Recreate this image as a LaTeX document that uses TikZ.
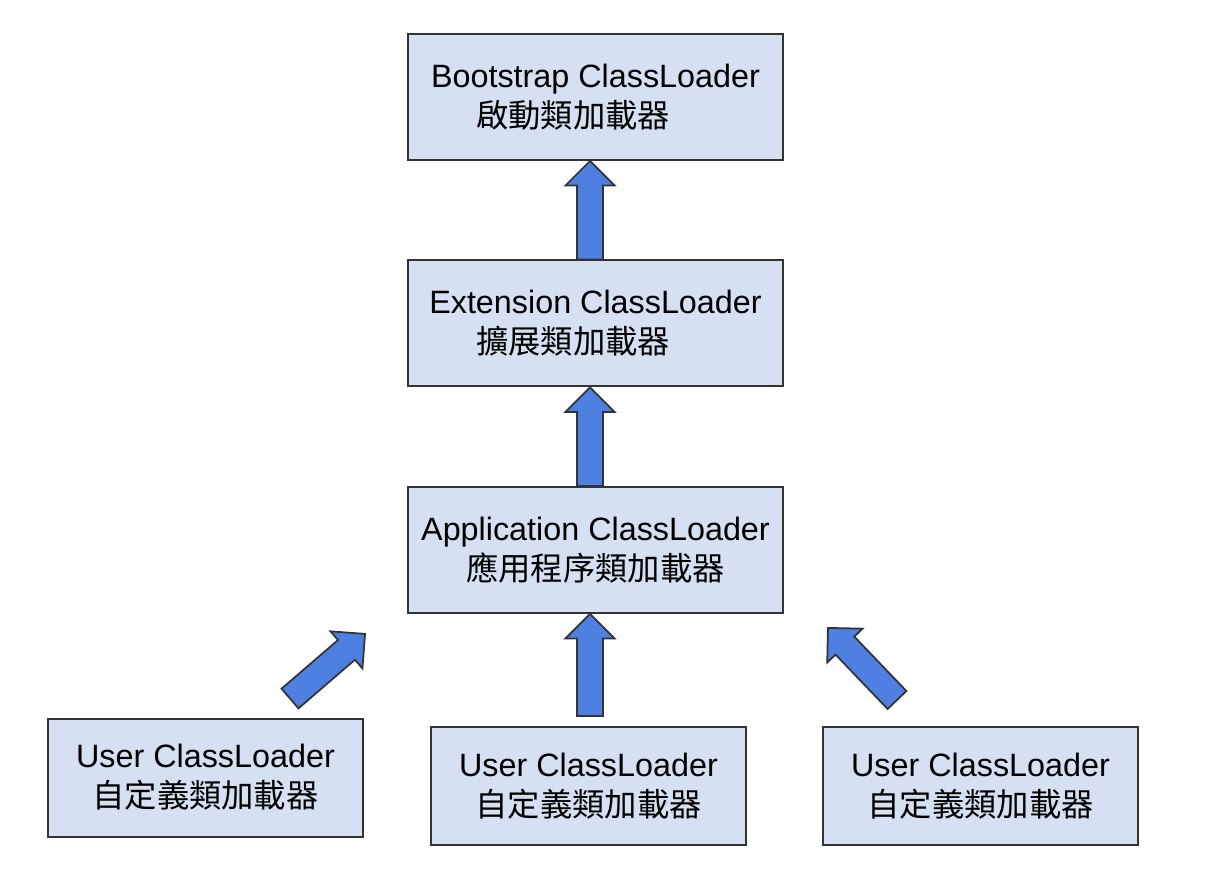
\documentclass[tikz,border=0pt]{standalone}
\usepackage{fontspec}
\setmainfont{Liberation Sans}
\newfontfamily\cjk{Noto Sans CJK TC}
\usepackage{tikz}
\usetikzlibrary{calc}
\definecolor{boxblue}{RGB}{213,224,242}
\definecolor{arrowblue}{RGB}{78,128,226}
\definecolor{edge}{RGB}{51,51,51}
\tikzstyle{loader} = [rectangle, minimum width=7.5cm, minimum height=2.52cm,%
    align=center, draw=edge, line width=0.04cm, fill=boxblue,
    font=\fontsize{18.4}{22.7}\selectfont]
\tikzstyle{user} = [loader, minimum width=6.3cm, minimum height=2.36cm]
\tikzstyle{fat} = [draw=edge, line width=0.035cm, fill=arrowblue, line join=miter]
% block arrow from #1 (tail) to #2 (tip)
\newcommand{\fatarrow}[2]{%
    \coordinate (fa-s) at (#1);
    \coordinate (fa-e) at (#2);
    \coordinate (fa-h) at ($(fa-e)!0.49cm!(fa-s)$);
    \filldraw[fat] ($(fa-s)!0.26cm!90:(fa-e)$) -- ($(fa-h)!0.26cm!90:(fa-e)$)
        -- ($(fa-h)!0.49cm!90:(fa-e)$) -- (fa-e) -- ($(fa-h)!0.49cm!-90:(fa-e)$)
        -- ($(fa-h)!0.26cm!-90:(fa-e)$) -- ($(fa-s)!0.26cm!-90:(fa-e)$) -- cycle;}

\begin{document}
\begin{tikzpicture}[x=0.02cm, y=-0.02cm, node distance=4.53cm]
        \useasboundingbox (0,0) rectangle (1216,872);
        \node (boot) [loader] at (595.5,97) {Bootstrap ClassLoader\\{\cjk 啟動類加載器}\hspace*{0.9cm}};
        \node (ext) [loader, below of=boot] {Extension ClassLoader\\{\cjk 擴展類加載器}\hspace*{0.9cm}};
        \node (app) [loader, below of=ext] {Application ClassLoader\\{\cjk 應用程序類加載器}};
        \node (uleft) [user] at (205.5,777.5) {User ClassLoader\\{\cjk 自定義類加載器}};
        \node (umid) [user] at (588.5,786) {User ClassLoader\\{\cjk 自定義類加載器}};
        \node (uright) [user] at (980.5,786) {User ClassLoader\\{\cjk 自定義類加載器}};
        \coordinate (lt) at ($(uleft.north)+(84.5,-19)$);
        \coordinate (lh) at ($(app.south west)+(-42,20)$);
        \coordinate (mt) at ($(umid.north)+(1.5,-10)$);
        \coordinate (rt) at ($(uright.north)+(-83.5,-26)$);
        \coordinate (rh) at ($(app.south east)+(44,14)$);
        \fatarrow{[xshift=-0.11cm]ext.north}{[xshift=-0.11cm]boot.south}
        \fatarrow{[xshift=-0.11cm]app.north}{[xshift=-0.11cm]ext.south}
        \fatarrow{mt}{[xshift=-0.11cm]app.south}
        \fatarrow{lt}{lh}
        \fatarrow{rt}{rh}
\end{tikzpicture}
\end{document}
